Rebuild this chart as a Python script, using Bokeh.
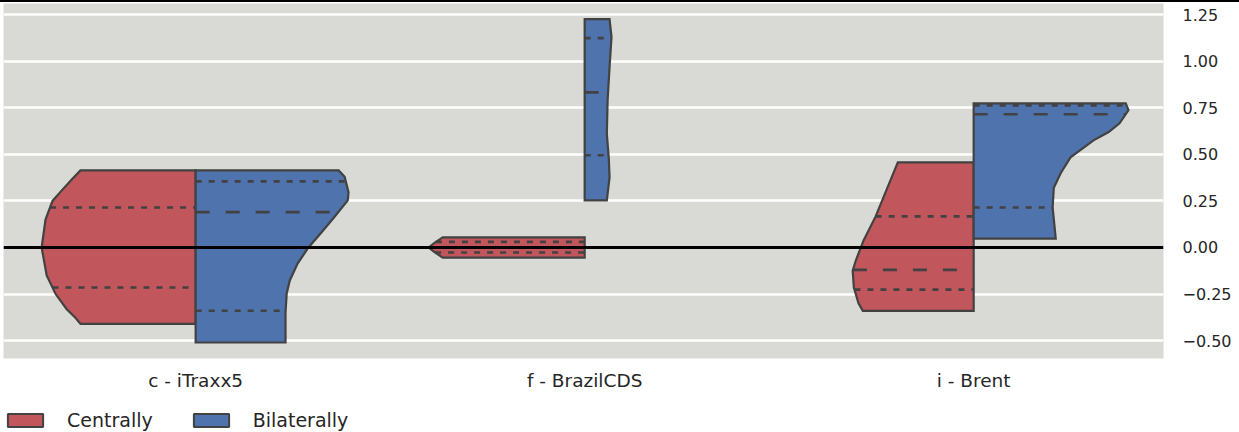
import numpy as np
from bokeh.plotting import figure
from bokeh.layouts import column
from bokeh.models import Range1d, FixedTicker, Span, Legend, LegendItem
from bokeh.embed import file_html
from bokeh.resources import INLINE

# ---------------- data ----------------
categories = ["c - iTraxx5", "f - BrazilCDS", "i - Brent"]
series_names = ["Centrally", "Bilaterally"]
y_ticks = [-0.5, -0.25, 0.0, 0.25, 0.5, 0.75, 1.0, 1.25]
y_tick_labels = ["\u22120.50", "\u22120.25", "0.00", "0.25", "0.50", "0.75", "1.00", "1.25"]

# violin outlines: value (y, top to bottom) and half-width (density, in category units)
itraxx_central_y = [0.414, 0.36, 0.30, 0.25, 0.15, 0.0, -0.15, -0.25, -0.33, -0.38, -0.41]
itraxx_central_w = [0.296, 0.321, 0.347, 0.368, 0.386, 0.396, 0.383, 0.360, 0.332, 0.308, 0.296]
itraxx_central_q = [-0.215, 0.0, 0.215]

itraxx_bilateral_y = [0.414, 0.38, 0.296, 0.253, 0.16, 0.075, 0.0, -0.086, -0.177, -0.247, -0.35, -0.51]
itraxx_bilateral_w = [0.368, 0.383, 0.393, 0.391, 0.355, 0.321, 0.290, 0.262, 0.242, 0.234, 0.231, 0.231]
itraxx_bilateral_q = [-0.34, 0.19, 0.355]

brazil_central_y = [0.054, 0.025, 0.0, -0.025, -0.054]
brazil_central_w = [0.365, 0.386, 0.401, 0.386, 0.365]
brazil_central_q = [-0.027, 0.0, 0.03]

brazil_bilateral_y = [1.226, 1.13, 0.97, 0.79, 0.61, 0.48, 0.376, 0.253]
brazil_bilateral_w = [0.064, 0.069, 0.064, 0.059, 0.057, 0.062, 0.064, 0.057]
brazil_bilateral_q = [0.495, 0.833, 1.124]

brent_central_y = [0.457, 0.167, 0.038, -0.07, -0.124, -0.215, -0.30, -0.34]
brent_central_w = [0.195, 0.252, 0.283, 0.303, 0.311, 0.308, 0.296, 0.285]
brent_central_q = [-0.226, -0.12, 0.167]

brent_bilateral_y = [0.774, 0.737, 0.667, 0.62, 0.575, 0.484, 0.40, 0.32, 0.215, 0.048]
brent_bilateral_w = [0.391, 0.398, 0.375, 0.347, 0.308, 0.249, 0.224, 0.206, 0.203, 0.211]
brent_bilateral_q = [0.215, 0.715, 0.763]

central = [(itraxx_central_y, itraxx_central_w, itraxx_central_q),
           (brazil_central_y, brazil_central_w, brazil_central_q),
           (brent_central_y, brent_central_w, brent_central_q)]
bilateral = [(itraxx_bilateral_y, itraxx_bilateral_w, itraxx_bilateral_q),
             (brazil_bilateral_y, brazil_bilateral_w, brazil_bilateral_q),
             (brent_bilateral_y, brent_bilateral_w, brent_bilateral_q)]

# ---------------- styles ----------------
RED = "#C1565C"
BLUE = "#4E73AD"
EDGE = "#424242"
BG = "#D9D9D5"
FONT = "DejaVu Sans"


def half_violin(groups, side):
    xs, ys, dot_x, dot_y, med_x, med_y = [], [], [], [], [], []
    for i, (yv, wv, qv) in enumerate(groups):
        yv = list(yv)
        wv = list(wv)
        xs.append([i + side * w for w in wv] + [i, i])
        ys.append(yv + [yv[-1], yv[0]])
        order = np.argsort(yv)
        ya = np.array(yv)[order]
        wa = np.array(wv)[order]
        for k, q in enumerate(qv):
            w = float(np.interp(q, ya, wa))
            seg_x = [i - w, i] if side < 0 else [i, i + w]
            if k == 1:
                med_x.append(seg_x)
                med_y.append([q, q])
            else:
                dot_x.append(seg_x)
                dot_y.append([q, q])
    return xs, ys, dot_x, dot_y, med_x, med_y


p = figure(width=1239, height=397,
           x_range=Range1d(-0.494, 2.488), y_range=Range1d(-0.596, 1.31),
           y_axis_location="right", output_backend="svg", toolbar_location=None,
           min_border_left=3, min_border_top=3, min_border_right=76, min_border_bottom=39)
p.styles = {"box-shadow": "inset 0 2px 0 #000"}
p.background_fill_color = BG
p.border_fill_color = None
p.outline_line_color = None

# legend strip (a second, axis-less figure below the chart; its view lies away from the data)
lg = figure(width=1239, height=35, x_range=Range1d(100, 101), y_range=Range1d(100, 101),
            output_backend="svg", toolbar_location=None,
            min_border_left=0, min_border_right=0, min_border_top=0, min_border_bottom=0)
lg.axis.visible = False
lg.grid.visible = False
lg.outline_line_color = None
lg.background_fill_color = None
lg.border_fill_color = None

lines = []
legend_renderers = []
for groups, side, color in [(central, -1, RED), (bilateral, 1, BLUE)]:
    xs, ys, dx, dy, mx, my = half_violin(groups, side)
    p.patches(xs=xs, ys=ys, fill_color=color, line_color=EDGE, line_width=2.2, line_join="miter")
    legend_renderers.append(lg.patches(xs=xs, ys=ys, fill_color=color, line_color=EDGE, line_width=2))
    lines.append((dx, dy, mx, my))

for dx, dy, mx, my in lines:
    p.multi_line(xs=dx, ys=dy, line_color=EDGE, line_width=2.6, line_dash="6 7")
    p.multi_line(xs=mx, ys=my, line_color=EDGE, line_width=2.6, line_dash="14 16")

p.add_layout(Span(location=0, dimension="width", line_color="black", line_width=3))

# axes
xt = FixedTicker(ticks=[0, 1, 2])
p.xaxis.ticker = xt
p.xaxis.major_label_overrides = {i: c for i, c in enumerate(categories)}
yt = FixedTicker(ticks=y_ticks)
p.yaxis.ticker = yt
p.ygrid.ticker = yt
p.yaxis.major_label_overrides = {t: l for t, l in zip(y_ticks, y_tick_labels)}

for ax in (p.xaxis[0], p.yaxis[0]):
    ax.axis_line_color = None
    ax.major_tick_line_color = None
    ax.minor_tick_line_color = None
    ax.major_tick_out = 0
    ax.major_tick_in = 0
    ax.minor_tick_out = 0
    ax.major_label_text_font = FONT
    ax.major_label_text_color = "#262626"

p.xaxis.major_label_text_font_size = "18.5px"
p.xaxis.major_label_standoff = 11
p.yaxis.major_label_text_font_size = "16px"
p.yaxis.major_label_standoff = 19

p.xgrid.visible = False
p.ygrid.grid_line_color = "white"
p.ygrid.grid_line_width = 2.5

legend = Legend(items=[LegendItem(label=series_names[0], renderers=[legend_renderers[0]]),
                       LegendItem(label=series_names[1], renderers=[legend_renderers[1]])],
                orientation="horizontal", location=(0, 1))
legend.padding = 0
legend.margin = 0
legend.spacing = 36
legend.glyph_width = 44
legend.glyph_height = 16
legend.label_standoff = 20
legend.label_text_font = FONT
legend.label_text_font_size = "19px"
legend.label_text_color = "#262626"
legend.border_line_color = None
legend.background_fill_alpha = 0
lg.add_layout(legend, "center")

layout = column(p, lg, spacing=0)
open("out.html", "w").write(file_html(layout, INLINE))
